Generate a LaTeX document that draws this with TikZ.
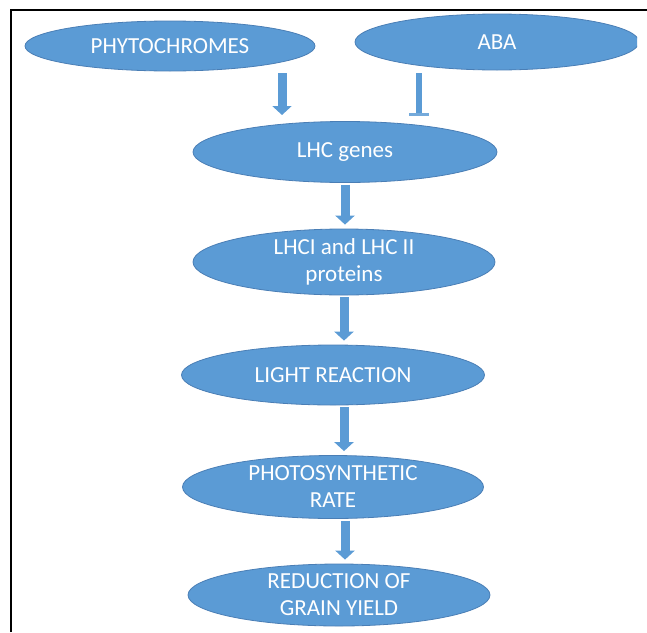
\documentclass[tikz,border=0pt]{standalone}
\usepackage{fontspec}
\setmainfont{Carlito}
\usetikzlibrary{shapes.geometric,arrows.meta,calc}
\definecolor{fillblue}{HTML}{5B9BD5}
\definecolor{edgeblue}{HTML}{4A7EB5}
\begin{document}
\begin{tikzpicture}[x=1pt,y=-1pt,
  oval/.style={ellipse,fill=fillblue,draw=edgeblue,line width=0.8pt,inner sep=0pt,
    text=white,align=center,font=\fontsize{23}{27}\selectfont},
  blockarrow/.style={draw=fillblue,line width=9pt,-{Triangle[width=19pt,length=9pt]}},
  inhib/.style={draw=fillblue,line width=6pt},
  inhibbar/.style={draw=fillblue!85,line width=3pt}]
\useasboundingbox (0,0) rectangle (647,632);
\draw[line width=2pt] (11,632) -- (11,10) -- (647,10);
\node[oval,minimum width=290pt,minimum height=50pt] (phy) at (170,46) {PHYTOCHROMES};
\begin{scope}
\clip (0,0) rectangle (637,632);
\node[oval,minimum width=284pt,minimum height=56pt] (aba) at (497,42) {ABA};
\end{scope}
\node[oval,minimum width=304pt,minimum height=61pt] (lhc) at (345,152) {LHC genes};
\node[oval,minimum width=302pt,minimum height=65pt] (prot) at (344,262) {LHCI and LHC II\\proteins};
\node[oval,minimum width=303pt,minimum height=60pt] (light) at (333,375) {LIGHT REACTION};
\node[oval,minimum width=301pt,minimum height=63pt] (photo) at (333,487) {PHOTOSYNTHETIC\\RATE};
\node[oval,minimum width=302pt,minimum height=62pt] (red) at (339,595) {REDUCTION OF\\GRAIN YIELD};
% phytochromes -> LHC genes
\coordinate (p1) at (282,73);
\coordinate (p2) at (282,115);
\draw[blockarrow] (p1) -- (p2);
% ABA inhibits LHC genes
\coordinate (a1) at (419,73);
\coordinate (a2) at (419,114);
\draw[inhib] (a1) -- (a2);
\draw[inhibbar] ([xshift=-10pt]a2) -- ([xshift=10pt]a2);
% chain
\draw[blockarrow,shorten <=2pt,shorten >=4pt] (lhc.south) -- (lhc.south |- prot.north);
\draw[blockarrow,shorten <=2pt,shorten >=4pt] (prot.south) -- (prot.south |- light.north);
\draw[blockarrow,shorten <=2pt,shorten >=4pt] ([xshift=11pt]light.south) -- ([xshift=11pt]light.south |- photo.north);
\draw[blockarrow,shorten <=2pt,shorten >=4pt] ([xshift=12pt]photo.south) -- ([xshift=12pt]photo.south |- red.north);
\end{tikzpicture}
\end{document}
